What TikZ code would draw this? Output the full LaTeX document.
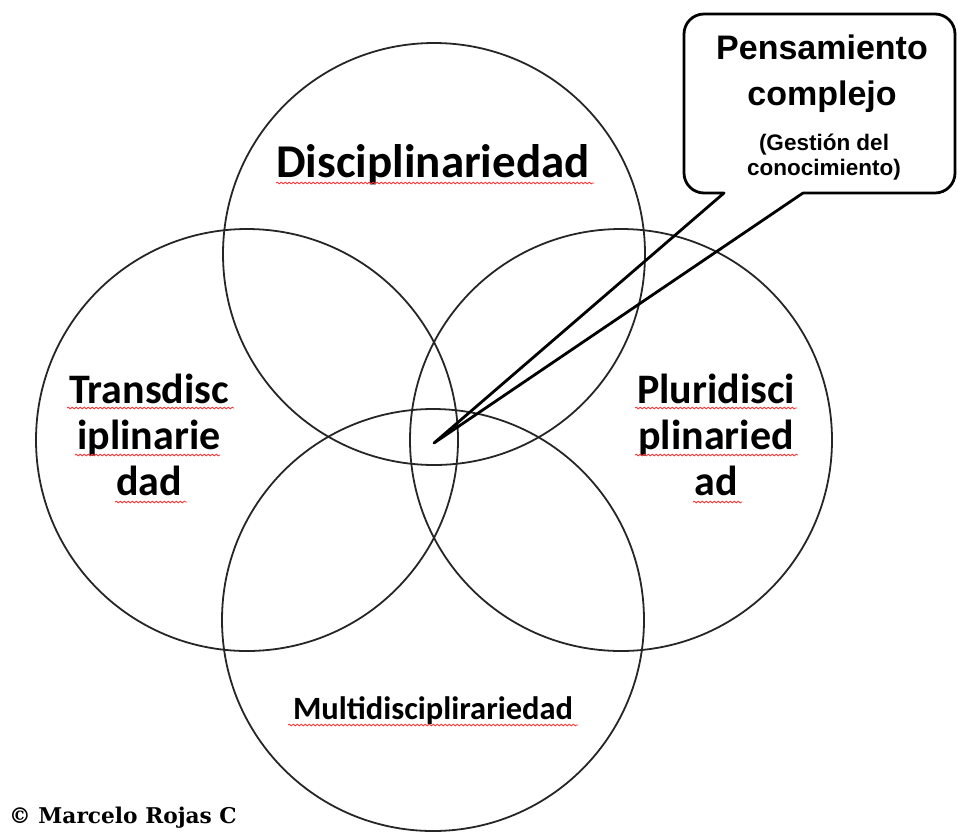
\documentclass[tikz,border=0pt]{standalone}
\usepackage{fontspec}
\setmainfont{Carlito}
\newfontfamily\arialfont{Liberation Sans}
\newfontfamily\slabfont{DejaVu Serif}
\usetikzlibrary{decorations.pathmorphing}
\tikzset{
  venn/.style={circle, draw=black!85, line width=1.8pt, minimum size=422pt, inner sep=0pt},
  lbl/.style={font=\bfseries, align=center, inner sep=0pt, anchor=base},
  spell/.style={draw=red!80, line width=0.8pt, decorate, decoration={snake, amplitude=0.9pt, segment length=4pt}},
  callout/.style={draw=black, line width=2.8pt, line join=round, line cap=round}
}
\begin{document}
\begin{tikzpicture}[x=1pt, y=-1pt]
\useasboundingbox (0,0) rectangle (958,831);
% circles
\node[venn] (disc) at (434,254) {};
\node[venn] (trans) at (247,440) {};
\node[venn] (pluri) at (621,440) {};
\node[venn] (multi) at (433,620) {};
% labels (base anchor = baseline of last line)
\node[lbl, font=\bfseries\fontsize{47}{52}\selectfont] (tdisc) at (433,177) {Disciplinariedad};
\node[lbl, font=\bfseries\fontsize{42}{46}\selectfont] (ttrans) at (149,495) {Transdisc\\iplinarie\\dad};
\node[lbl, font=\bfseries\fontsize{42}{46}\selectfont] (tpluri) at (716,495) {Pluridisci\\plinaried\\ad};
\node[lbl, font=\bfseries\fontsize{32.5}{38}\selectfont] (tmulti) at (433,719) {Multidisciplirariedad};
% spell-check underlines
\draw[spell] (276,183) -- (594,183);
\draw[spell] (67,408) -- (234,408);
\draw[spell] (75,455) -- (220,455);
\draw[spell] (115,502) -- (187,502);
\draw[spell] (635,408) -- (797,408);
\draw[spell] (635,455) -- (798,455);
\draw[spell] (693,502) -- (742,502);
\draw[spell] (288,725) -- (578,725);
% callout
\coordinate (tip) at (434,443);
\coordinate (bl) at (724,193);
\coordinate (br) at (803,193);
\draw[callout] (br) -- (tip) -- (bl) [rounded corners=20pt] -- (684,193) -- (684,14) -- (955,14) -- (955,193) -- (br);
\node[lbl, font=\arialfont\bfseries\fontsize{34}{46}\selectfont] (pc) at (822,105) {Pensamiento\\complejo};
\node[lbl, font=\arialfont\bfseries\fontsize{22.5}{25}\selectfont] (gc) at (824,175) {(Gestión del\\conocimiento)};
% copyright
\node[font=\slabfont\bfseries\fontsize{21.7}{26}\selectfont, anchor=base west, inner sep=0pt] (copy) at (9,823) {© Marcelo Rojas C};
\end{tikzpicture}
\end{document}
